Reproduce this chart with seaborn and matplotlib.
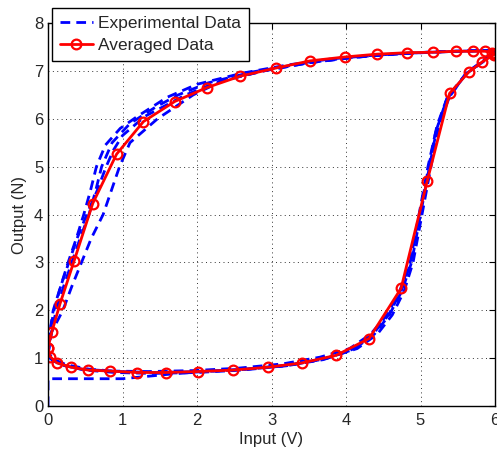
import numpy as np
import pandas as pd
import matplotlib
matplotlib.use('Agg')
import matplotlib.pyplot as plt
import seaborn as sns

# averaged hysteresis loop (red)
avg_x = [0.00, 0.05, 0.16, 0.35, 0.60, 0.92, 1.28, 1.70, 2.13, 2.58, 3.06, 3.52, 3.98, 4.42,
         4.82, 5.17, 5.47, 5.71, 5.87, 5.96, 6.00, 5.98, 5.83, 5.65, 5.39, 5.09, 4.74, 4.31,
         3.87, 3.41, 2.95, 2.48, 2.01, 1.58, 1.19, 0.83, 0.54, 0.31, 0.12, 0.03, 0.00]
avg_y = [1.22, 1.54, 2.13, 3.03, 4.23, 5.26, 5.94, 6.36, 6.65, 6.89, 7.06, 7.21, 7.29, 7.35,
         7.38, 7.39, 7.41, 7.41, 7.41, 7.38, 7.36, 7.33, 7.19, 6.98, 6.53, 4.70, 2.46, 1.41,
         1.06, 0.90, 0.81, 0.75, 0.72, 0.70, 0.70, 0.73, 0.75, 0.81, 0.90, 1.03, 1.22]

# experimental trials (blue dashed)
trial1_x = [0.00, 0.02, 0.08, 0.17, 0.27, 0.38, 0.48, 0.57, 0.65, 0.77, 0.97, 1.20, 1.60, 2.00,
            2.60, 3.20, 3.80, 4.40, 5.00, 5.50, 6.00,
            5.85, 5.62, 5.35, 5.22, 5.12, 5.00, 4.88, 4.75, 4.58, 4.38, 4.10, 3.70, 3.20, 2.60,
            2.00, 1.40, 0.90, 0.50, 0.25, 0.08, 0.00]
trial1_y = [1.00, 1.50, 2.00, 2.50, 3.00, 3.50, 4.00, 4.50, 5.00, 5.45, 5.80, 6.05, 6.45, 6.72,
            6.95, 7.12, 7.25, 7.33, 7.38, 7.41, 7.43,
            7.20, 6.95, 6.40, 5.80, 5.00, 4.00, 3.00, 2.40, 1.90, 1.50, 1.18, 0.98, 0.84, 0.75,
            0.70, 0.68, 0.70, 0.75, 0.83, 0.93, 1.05]

trial2_x = [0.00, 0.04, 0.11, 0.21, 0.32, 0.43, 0.55, 0.64, 0.72, 0.86, 1.10, 1.45, 1.75, 2.15,
            2.75, 3.40, 4.00, 4.60, 5.10, 5.60, 6.00,
            5.82, 5.60, 5.34, 5.20, 5.10, 4.98, 4.86, 4.72, 4.55, 4.33, 4.05, 3.65, 3.15, 2.55,
            1.95, 1.35, 0.85, 0.45, 0.20, 0.06, 0.00]
trial2_y = [1.05, 1.50, 2.00, 2.50, 3.00, 3.50, 4.00, 4.50, 5.00, 5.50, 5.90, 6.25, 6.50, 6.75,
            6.98, 7.15, 7.27, 7.35, 7.39, 7.41, 7.42,
            7.18, 6.92, 6.35, 5.70, 5.00, 4.00, 3.00, 2.40, 1.90, 1.50, 1.20, 1.02, 0.88, 0.79,
            0.74, 0.72, 0.73, 0.77, 0.85, 0.95, 1.08]

trial3_x = [0.00, 0.05, 0.20, 0.32, 0.45, 0.58, 0.74, 0.85, 0.96, 1.10, 1.47, 1.95, 2.35, 2.95,
            3.55, 4.15, 4.75, 5.30, 5.70, 6.00,
            5.84, 5.63, 5.40, 5.25, 5.14, 5.02, 4.90, 4.78, 4.62, 4.42, 4.15, 3.75, 3.25, 2.65,
            2.05, 1.45, 0.95, 0.55, 0.25, 0.08, 0.00]
trial3_y = [1.10, 1.55, 2.00, 2.50, 3.00, 3.50, 4.00, 4.50, 5.00, 5.50, 6.00, 6.50, 6.80, 7.02,
            7.18, 7.29, 7.36, 7.40, 7.42, 7.43,
            7.21, 6.98, 6.50, 5.90, 5.00, 4.00, 3.00, 2.40, 1.90, 1.50, 1.20, 1.00, 0.86, 0.77,
            0.72, 0.70, 0.72, 0.77, 0.86, 0.97, 1.12]

trial4_x = [0.00, 0.01, 0.07, 0.17, 0.28, 0.39, 0.52, 0.66, 0.78, 0.88, 1.00, 1.30, 1.85, 2.30,
            2.90, 3.50, 4.10, 4.70, 5.20, 5.60, 6.00,
            5.83, 5.62, 5.36, 5.22, 5.11, 4.99, 4.87, 4.74, 4.57, 4.36, 4.08, 3.70, 3.20, 2.60,
            2.00, 1.60, 1.20, 1.00, 0.50, 0.00, 0.00]
trial4_y = [0.95, 1.40, 2.00, 2.50, 3.00, 3.50, 4.00, 4.50, 5.00, 5.35, 5.65, 6.05, 6.50, 6.78,
            7.00, 7.17, 7.28, 7.36, 7.40, 7.42, 7.43,
            7.19, 6.96, 6.45, 5.85, 5.00, 4.00, 3.00, 2.40, 1.90, 1.50, 1.18, 0.97, 0.84, 0.76,
            0.71, 0.66, 0.60, 0.57, 0.57, 0.57, 0.00]

trials = [(trial1_x, trial1_y), (trial2_x, trial2_y), (trial3_x, trial3_y), (trial4_x, trial4_y)]

sns.set_style('white')
plt.rcParams['font.family'] = ['Liberation Sans', 'DejaVu Sans']
plt.rcParams['font.size'] = 12

fig = plt.figure(figsize=(4.97, 4.54), dpi=100)
ax = fig.add_axes([0.0966, 0.1057, 0.8994, 0.8436])

rows = []
for i, (tx, ty) in enumerate(trials):
    for j, (xx, yy) in enumerate(zip(tx, ty)):
        rows.append({'trial': i, 'order': j, 'x': xx, 'y': yy})
exp_df = pd.DataFrame(rows)

sns.lineplot(data=exp_df, x='x', y='y', units='trial', estimator=None, sort=False,
             color='blue', linewidth=2, ax=ax, legend=False)
for ln in ax.lines:
    ln.set_dashes((3.5, 2.2))

sns.lineplot(x=avg_x, y=avg_y, sort=False, estimator=None, color='red', linewidth=2,
             marker='o', markersize=7, markerfacecolor='none', markeredgecolor='red',
             markeredgewidth=1.6, ax=ax, legend=False)

ax.set_xlim(0, 6)
ax.set_ylim(0, 8)
ax.set_xticks(range(0, 7))
ax.set_yticks(range(0, 9))
ax.grid(True, linestyle=(0, (1, 3.5)), color='#333333', linewidth=0.7)
ax.tick_params(direction='in', length=4, top=True, right=True, labelsize=12,
               color='black', width=0.8)
ax.tick_params(axis='x', pad=5)
ax.tick_params(axis='y', pad=3.5)
for sp in ax.spines.values():
    sp.set_visible(True)
    sp.set_color('black')
    sp.set_linewidth(1.0)
ax.set_xlabel('Input (V)', fontsize=12, labelpad=3)
ax.set_ylabel('Output (N)', fontsize=12, labelpad=5)

h_exp = plt.Line2D([], [], color='blue', linewidth=2, dashes=(3.5, 2.2))
h_avg = plt.Line2D([], [], color='red', linewidth=2, marker='o', markersize=7,
                   markerfacecolor='none', markeredgewidth=1.6)
leg = fig.legend([h_exp, h_avg], ['Experimental Data', 'Averaged Data'], loc='upper left',
                 bbox_to_anchor=(52 / 497, 1 - 8 / 454), frameon=True, fancybox=False,
                 framealpha=1, edgecolor='black', fontsize=12.5, handlelength=1.9,
                 handletextpad=0.3, borderpad=0.45, labelspacing=0.4, numpoints=1,
                 borderaxespad=0)
leg.get_frame().set_linewidth(1.0)

fig.savefig('out.png', dpi=100)
